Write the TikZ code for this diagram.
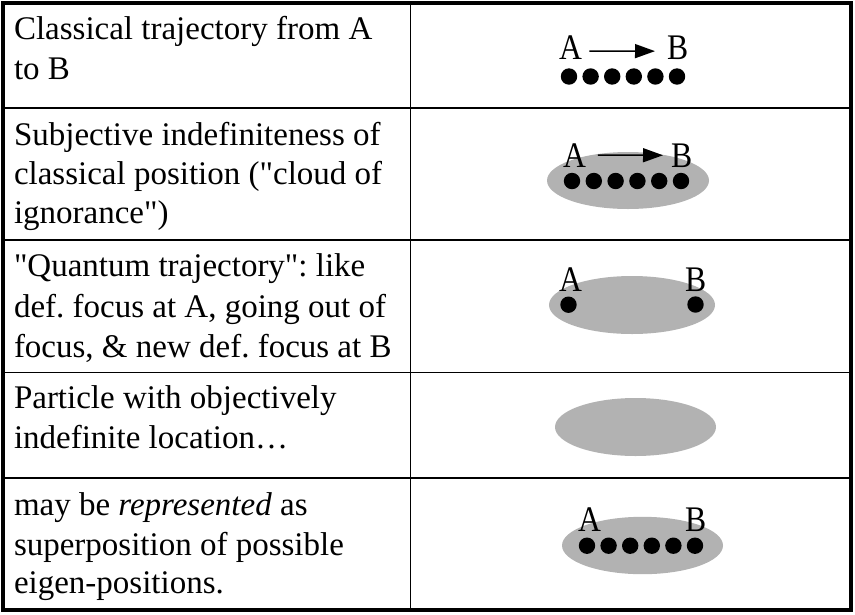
\documentclass[tikz,border=0pt]{standalone}
\usepackage{fontspec}
\setmainfont{Liberation Serif}[Ligatures=TeXOff]
\usetikzlibrary{arrows.meta}
\definecolor{cloud}{RGB}{178,178,178}
\tikzset{
  celltext/.style={anchor=base west, inner sep=0pt, outer sep=0pt, font=\fontsize{33}{40}\selectfont\frenchspacing},
  pointlabel/.style={anchor=base west, inner sep=0pt, outer sep=0pt, font=\fontsize{36}{40}\selectfont},
  gridline/.style={line width=1.8pt},
  frameline/.style={line width=4pt},
  dotfill/.style={fill=black},
  cloudfill/.style={fill=cloud},
  trajarrow/.style={line width=1.5pt, -{Triangle[length=20pt,width=14pt]}}
}
\newcommand{\ptA}{\scalebox{0.88}[1]{A}}
\newcommand{\ptB}{\scalebox{0.88}[1]{B}}
\begin{document}
\begin{tikzpicture}[x=1pt,y=-1pt]
\useasboundingbox (0,0) rectangle (855,614);
% grid
\draw[gridline] (410.5,2.5) -- (410.5,610);
\foreach \yy in {108,240,372.5,478} \draw[gridline] (3,\yy) -- (851,\yy);
\draw[frameline] (3,2.5) rectangle (851,610);

% left column texts
\node[celltext] (t1a) at (14,39.5) {Classical trajectory from A};
\node[celltext] (t1b) at (14,79.5) {to B};
\node[celltext] (t2a) at (14,145.5) {Subjective indefiniteness of};
\node[celltext] (t2b) at (14,184.5) {classical position ("cloud of};
\node[celltext] (t2c) at (14,223.5) {ignorance")};
\node[celltext] (t3a) at (14,276.7) {"Quantum trajectory": like};
\node[celltext] (t3b) at (14,317) {def. focus at A, going out of};
\node[celltext] (t3c) at (14,357) {focus, \& new def. focus at B};
\node[celltext] (t4a) at (14,408.3) {Particle with objectively};
\node[celltext] (t4b) at (14,448) {indefinite location…};
\node[celltext] (t5a) at (14,515) {may be \textit{represented} as};
\node[celltext] (t5b) at (14,555) {superposition of possible};
\node[celltext] (t5c) at (14,593) {eigen-positions.};

% row 1: classical trajectory
\node[pointlabel] (A1) at (559,59.5) {\ptA};
\node[pointlabel] (B1) at (667,59.5) {\ptB};
\draw[trajarrow, shorten <=7.5pt, shorten >=12pt] ([yshift=-3.4pt]A1.east) -- ([yshift=-3.4pt]B1.west);
\foreach \i in {0,...,5} \fill[dotfill] (569+21.6*\i,76.5) circle[radius=8.2];

% row 2: cloud of ignorance
\fill[cloudfill] (628,180.5) ellipse[x radius=81, y radius=28.5];
\node[pointlabel] (A2) at (563,167) {\ptA};
\node[pointlabel] (B2) at (671,167) {\ptB};
\draw[trajarrow, shorten <=12pt, shorten >=8pt] (A2.east) -- (B2.west);
\foreach \i in {0,...,5} \fill[dotfill] (572+21.8*\i,181) circle[radius=8.2];

% row 3: quantum trajectory
\fill[cloudfill] (632,305) ellipse[x radius=83, y radius=29];
\node[pointlabel] (A3) at (559,291) {\ptA};
\node[pointlabel] (B3) at (685,291) {\ptB};
\fill[dotfill] (568.5,304.7) circle[radius=8.2];
\fill[dotfill] (695.5,304.5) circle[radius=8.2];

% row 4: indefinite location
\fill[cloudfill] (635.5,427) ellipse[x radius=80.5, y radius=29];

% row 5: superposition
\fill[cloudfill] (642.5,545.5) ellipse[x radius=80.5, y radius=28.7];
\node[pointlabel] (A5) at (578,531.5) {\ptA};
\node[pointlabel] (B5) at (685,531.5) {\ptB};
\foreach \i in {0,...,5} \fill[dotfill] (587+21.6*\i,545.7) circle[radius=8.2];
\end{tikzpicture}
\end{document}
